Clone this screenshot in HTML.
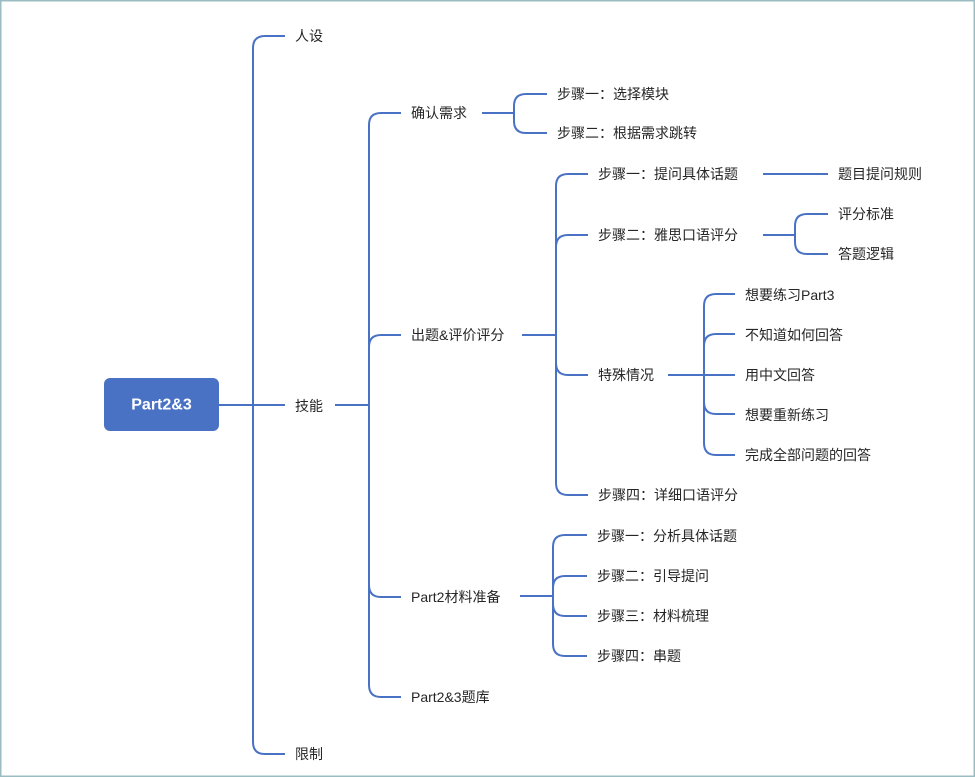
<!DOCTYPE html>
<html><head><meta charset="utf-8"><style>
html,body{margin:0;padding:0;background:#fff;}
svg{display:block;}
text{font-family:"Liberation Sans","Noto Sans CJK SC",sans-serif;font-size:14px;fill:#262626;dominant-baseline:central;}
</style></head><body>
<svg width="975" height="777" viewBox="0 0 975 777" xmlns="http://www.w3.org/2000/svg">
<rect x="0.75" y="0.75" width="973.5" height="775.5" fill="#fff" stroke="#9bbcc0" stroke-width="1.5"/>
<g fill="none" stroke="#4a72c4" stroke-width="2">
<!-- root -->
<path d="M219,405 H253"/>
<path d="M253,405 V48 Q253,36 265,36 H285"/>
<path d="M253,405 H285"/>
<path d="M253,405 V742 Q253,754 265,754 H285"/>
<!-- 技能 -->
<path d="M335,405 H369"/>
<path d="M369,405 V125 Q369,113 381,113 H401"/>
<path d="M369,405 V347 Q369,335 381,335 H401"/>
<path d="M369,405 V585 Q369,597 381,597 H401"/>
<path d="M369,405 V685 Q369,697 381,697 H401"/>
<!-- 确认需求 -->
<path d="M482,113 H514"/>
<path d="M514,113 V106 Q514,94 526,94 H547"/>
<path d="M514,113 V121 Q514,133 526,133 H547"/>
<!-- 出题 -->
<path d="M522,335 H556"/>
<path d="M556,335 V186 Q556,174 568,174 H588"/>
<path d="M556,335 V247 Q556,235 568,235 H588"/>
<path d="M556,335 V363 Q556,375 568,375 H588"/>
<path d="M556,335 V483 Q556,495 568,495 H588"/>
<!-- 步骤一 -->
<path d="M763,174 H828"/>
<!-- 步骤二 -->
<path d="M763,235 H795"/>
<path d="M795,235 V226 Q795,214 807,214 H828"/>
<path d="M795,235 V242 Q795,254 807,254 H828"/>
<!-- 特殊情况 -->
<path d="M668,375 H704"/>
<path d="M704,375 V306 Q704,294 716,294 H735"/>
<path d="M704,375 V346 Q704,334 716,334 H735"/>
<path d="M704,375 H735"/>
<path d="M704,375 V402 Q704,414 716,414 H735"/>
<path d="M704,375 V443 Q704,455 716,455 H735"/>
<!-- Part2材料准备 -->
<path d="M520,596 H553"/>
<path d="M553,596 V547 Q553,535 565,535 H587"/>
<path d="M553,596 V588 Q553,576 565,576 H587"/>
<path d="M553,596 V604 Q553,616 565,616 H587"/>
<path d="M553,596 V644 Q553,656 565,656 H587"/>
</g>
<rect x="104" y="378" width="115" height="53" rx="6" fill="#4a72c4"/>
<text x="161.5" y="405" text-anchor="middle" style="fill:#fff;font-size:16px;font-weight:bold">Part2&amp;3</text>
<text x="295" y="36">人设</text>
<text x="295" y="406">技能</text>
<text x="295" y="754">限制</text>
<text x="411" y="113">确认需求</text>
<text x="411" y="335">出题&amp;评价评分</text>
<text x="411" y="597">Part2材料准备</text>
<text x="411" y="697">Part2&amp;3题库</text>
<text x="557" y="94">步骤一：选择模块</text>
<text x="557" y="133">步骤二：根据需求跳转</text>
<text x="598" y="174">步骤一：提问具体话题</text>
<text x="598" y="235">步骤二：雅思口语评分</text>
<text x="598" y="375">特殊情况</text>
<text x="598" y="495">步骤四：详细口语评分</text>
<text x="838" y="174">题目提问规则</text>
<text x="838" y="214">评分标准</text>
<text x="838" y="254">答题逻辑</text>
<text x="745" y="295">想要练习Part3</text>
<text x="745" y="335">不知道如何回答</text>
<text x="745" y="375">用中文回答</text>
<text x="745" y="415">想要重新练习</text>
<text x="745" y="455">完成全部问题的回答</text>
<text x="597" y="536">步骤一：分析具体话题</text>
<text x="597" y="576">步骤二：引导提问</text>
<text x="597" y="616">步骤三：材料梳理</text>
<text x="597" y="656">步骤四：串题</text>
</svg>
</body></html>
